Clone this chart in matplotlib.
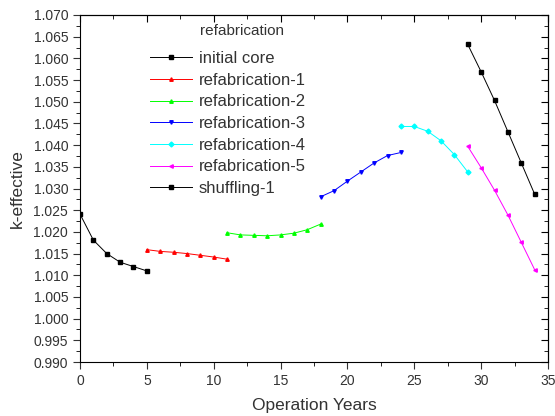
import matplotlib.pyplot as plt
from matplotlib.ticker import MultipleLocator

plt.rcParams['font.family'] = ['Liberation Sans', 'DejaVu Sans']

# data
years_core = [0, 1, 2, 3, 4, 5]
k_core = [1.0241, 1.0181, 1.0150, 1.0130, 1.0120, 1.0110]

years_r1 = [5, 6, 7, 8, 9, 10, 11]
k_r1 = [1.0159, 1.0155, 1.0153, 1.0150, 1.0146, 1.0142, 1.0137]

years_r2 = [11, 12, 13, 14, 15, 16, 17, 18]
k_r2 = [1.0198, 1.0193, 1.0192, 1.0191, 1.0193, 1.0197, 1.0205, 1.0218]

years_r3 = [18, 19, 20, 21, 22, 23, 24]
k_r3 = [1.0281, 1.0295, 1.0317, 1.0338, 1.0359, 1.0376, 1.0383]

years_r4 = [24, 25, 26, 27, 28, 29]
k_r4 = [1.0443, 1.0443, 1.0432, 1.0410, 1.0378, 1.0338]

years_r5 = [29, 30, 31, 32, 33, 34]
k_r5 = [1.0397, 1.0348, 1.0296, 1.0239, 1.0176, 1.0113]

years_sh = [29, 30, 31, 32, 33, 34]
k_sh = [1.0632, 1.0569, 1.0503, 1.0431, 1.0359, 1.0287]

series = [
    (years_core, k_core, 'initial core', 'black', 's'),
    (years_r1, k_r1, 'refabrication-1', '#ff0000', '^'),
    (years_r2, k_r2, 'refabrication-2', '#00ff00', '^'),
    (years_r3, k_r3, 'refabrication-3', '#0000ff', 'v'),
    (years_r4, k_r4, 'refabrication-4', '#00ffff', 'D'),
    (years_r5, k_r5, 'refabrication-5', '#ff00ff', '<'),
    (years_sh, k_sh, 'shuffling-1', 'black', 's'),
]

fig = plt.figure(figsize=(5.55, 4.16), dpi=100)
ax = fig.add_axes([80 / 555, 1 - 362 / 416, 468 / 555, 347 / 416])

for x, y, lab, col, mk in series:
    ax.plot(x, y, color=col, lw=0.7, marker=mk, markersize=2.5, label=lab)

ax.set_xlim(0, 35)
ax.set_ylim(0.990, 1.070)
ax.xaxis.set_major_locator(MultipleLocator(5))
ax.xaxis.set_minor_locator(MultipleLocator(2.5))
ax.yaxis.set_major_locator(MultipleLocator(0.005))
ax.yaxis.set_minor_locator(MultipleLocator(0.0025))
ax.yaxis.set_major_formatter(plt.FormatStrFormatter('%.3f'))
ax.tick_params(direction='out', labelsize=10, length=5, colors='#333333')
ax.tick_params(which='minor', direction='out', length=3)

# mirrored ticks on top and right, pointing in
top = ax.secondary_xaxis('top')
top.xaxis.set_major_locator(MultipleLocator(5))
top.xaxis.set_minor_locator(MultipleLocator(2.5))
top.tick_params(direction='in', labeltop=False, length=5)
top.tick_params(which='minor', direction='in', length=3)
right = ax.secondary_yaxis('right')
right.yaxis.set_major_locator(MultipleLocator(0.005))
right.yaxis.set_minor_locator(MultipleLocator(0.0025))
right.tick_params(direction='in', labelright=False, length=5)
right.tick_params(which='minor', direction='in', length=3)

ax.set_xlabel('Operation Years', fontsize=12.5, color='#333333', labelpad=7)
ax.set_ylabel('k-effective', fontsize=12.5, color='#333333', labelpad=6)

ax.legend(loc='upper left', bbox_to_anchor=(0.135, 0.915), frameon=False,
          fontsize=12, handlelength=2.5, handletextpad=0.45, labelspacing=0.4,
          borderaxespad=0, labelcolor='#333333')
ax.text(200, 416 - 31, 'refabrication', transform=None, fontsize=11,
        color='#333333', va='center', ha='left')

fig.savefig('out.png', dpi=100)
